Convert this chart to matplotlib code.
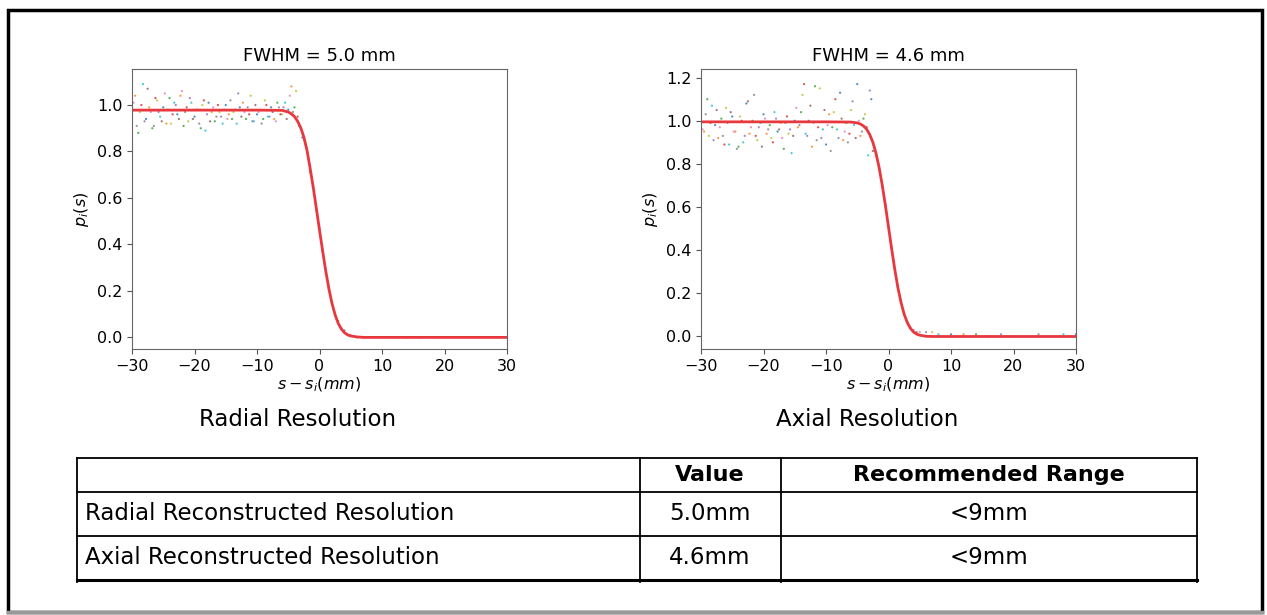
import matplotlib
matplotlib.use("Agg")
import matplotlib.pyplot as plt
from matplotlib.patches import Rectangle
from matplotlib.lines import Line2D

# sample positions of the noisy plateau (two interleaved passes)
x_pass_a = [-30, -29.5, -29, -28.5, -28, -27.5, -27, -26.5,
            -26, -25.5, -25, -24.5, -24, -23.5, -23, -22.5,
            -22, -21.5, -21, -20.5, -20, -19.5, -19, -18.5,
            -18, -17.5, -17, -16.5, -16, -15.5, -15, -14.5,
            -14, -13.5, -13, -12.5, -12, -11.5, -11, -10.5,
            -10, -9.5, -9, -8.5, -8, -7.5, -7, -6.5,
            -6, -5.5, -5, -4.5, -4, -3.5, -3, -2.5]
x_pass_b = [-29.75, -29.25, -28.75, -28.25, -27.75, -27.25, -26.75, -26.25,
            -25.75, -25.25, -24.75, -24.25, -23.75, -23.25, -22.75, -22.25,
            -21.75, -21.25, -20.75, -20.25, -19.75, -19.25, -18.75, -18.25,
            -17.75, -17.25, -16.75, -16.25, -15.75, -15.25, -14.75, -14.25,
            -13.75, -13.25, -12.75, -12.25, -11.75, -11.25, -10.75, -10.25,
            -9.75, -9.25, -8.75, -8.25, -7.75, -7.25, -6.75, -6.25,
            -5.75, -5.25, -4.75, -4.25, -3.75, -3.25, -2.75, -2.25]
x_tail = [-2, -1.5, -1, -0.5, 0, 0.5, 1, 1.5, 2, 2.5, 3, 3.5, 4, 4.5, 5,
          6, 7, 8, 10, 12, 14, 16, 18, 20, 22, 24, 26, 28, 30]

# radial profile samples
rad_y_a = [0.95, 1.04, 0.88, 1.00, 0.93, 1.07, 0.97, 0.91,
           1.02, 0.95, 0.99, 0.92, 1.03, 0.96, 1.00, 0.94,
           1.06, 0.97, 0.93, 1.01, 0.95, 0.98, 0.90, 1.02,
           0.96, 0.93, 0.99, 0.95, 0.97, 0.92, 1.00, 0.96,
           0.94, 0.98, 1.05, 0.95, 0.97, 0.99, 1.04, 0.93,
           0.96, 0.98, 0.94, 1.00, 0.95, 0.97, 0.93, 0.99,
           0.96, 1.01, 0.98, 1.08, 0.99, 0.95, 0.90, 0.85]
rad_y_b = [1.01, 0.91, 0.97, 1.09, 0.94, 0.99, 0.90, 1.03,
           0.97, 0.93, 1.05, 0.98, 0.92, 1.01, 0.96, 1.04,
           0.91, 0.99, 1.03, 0.94, 0.98, 0.92, 1.00, 0.89,
           1.01, 0.97, 0.93, 1.00, 0.95, 0.98, 0.94, 1.02,
           0.97, 0.92, 0.99, 1.01, 0.94, 0.96, 0.93, 1.00,
           0.97, 0.92, 1.02, 0.95, 0.99, 0.94, 1.01, 0.96,
           0.99, 0.94, 1.04, 0.97, 1.06, 0.91, 0.86, 0.83]
rad_y_tail = [0.80, 0.71, 0.65, 0.55, 0.47, 0.37, 0.29, 0.21, 0.15, 0.10,
              0.07, 0.04, 0.03, 0.01, 0.01, 0.00, 0.00, 0.00, 0.00, 0.00,
              0.00, 0.00, 0.00, 0.00, 0.00, 0.00, 0.00, 0.00, 0.00]

# axial profile samples
ax_y_a = [1.08, 0.95, 1.10, 0.99, 0.91, 1.05, 0.97, 0.93,
          1.06, 0.89, 1.02, 0.95, 0.88, 1.00, 0.93, 1.09,
          0.97, 1.12, 0.91, 0.99, 1.03, 0.94, 0.98, 0.90,
          1.01, 0.96, 0.92, 0.99, 0.94, 0.85, 1.00, 0.97,
          1.04, 1.17, 0.93, 1.07, 0.99, 0.91, 1.15, 0.96,
          0.89, 1.03, 0.97, 1.10, 0.92, 1.01, 0.95, 0.90,
          1.05, 0.98, 1.17, 0.93, 1.01, 0.97, 1.14, 0.86]
ax_y_b = [0.96, 1.03, 0.93, 1.07, 0.98, 0.92, 1.01, 0.89,
          0.99, 1.04, 0.95, 0.87, 1.02, 0.90, 1.08, 0.94,
          1.00, 0.93, 0.97, 0.88, 1.01, 0.96, 0.92, 1.04,
          0.95, 0.99, 0.87, 1.02, 0.96, 0.93, 1.06, 0.98,
          1.12, 0.94, 1.00, 0.88, 1.16, 0.97, 0.92, 1.05,
          0.98, 0.86, 1.04, 0.96, 1.13, 0.91, 0.99, 0.94,
          1.09, 0.92, 1.00, 0.95, 1.03, 0.84, 1.10, 0.88]
ax_y_tail = [0.85, 0.78, 0.70, 0.61, 0.51, 0.41, 0.31, 0.23, 0.16, 0.10,
             0.07, 0.04, 0.03, 0.02, 0.02, 0.02, 0.02, 0.01, 0.01, 0.01,
             0.01, 0.00, 0.01, 0.00, 0.00, 0.01, 0.00, 0.01, 0.01]

# fitted edge (erf) curves
fit_x = [-30, -20, -10, -6, -5, -4.5, -4, -3.5, -3, -2.5, -2, -1.5, -1, -0.5,
         0, 0.5, 1, 1.5, 2, 2.5, 3, 3.5, 4, 4.5, 5, 6, 7, 10, 20, 30]
rad_fit = [0.978, 0.978, 0.978, 0.977, 0.970, 0.962, 0.950, 0.930, 0.902, 0.862,
           0.805, 0.728, 0.645, 0.554, 0.462, 0.372, 0.286, 0.210, 0.146, 0.097,
           0.060, 0.036, 0.020, 0.011, 0.006, 0.002, 0.000, 0.000, 0.000, 0.000]
ax_fit = [0.995, 0.995, 0.995, 0.994, 0.990, 0.985, 0.976, 0.961, 0.936, 0.900,
          0.849, 0.783, 0.701, 0.608, 0.508, 0.407, 0.312, 0.227, 0.158, 0.104,
          0.065, 0.038, 0.021, 0.011, 0.006, 0.001, 0.000, 0.000, 0.000, 0.000]

titles = ["FWHM = 5.0 mm", "FWHM = 4.6 mm"]
captions = ["Radial Resolution", "Axial Resolution"]
row_names = ["Radial Reconstructed Resolution", "Axial Reconstructed Resolution"]
row_values = ["5.0mm", "4.6mm"]
row_ranges = ["<9mm", "<9mm"]
col_headers = ["Value", "Recommended Range"]

tab10 = plt.rcParams["axes.prop_cycle"].by_key()["color"]

fig = plt.figure(figsize=(12.67, 6.15), dpi=100)
W, H = 1267, 615

# outer frame
fig.add_artist(Rectangle((8 / W, 1 - 612 / H), 1254 / W, 602 / H,
                         transform=fig.transFigure, fill=False,
                         edgecolor="black", linewidth=2.5))
fig.add_artist(Line2D([8 / W, 1262 / W], [1 - 612 / H, 1 - 612 / H],
                      transform=fig.transFigure, color="#999999", linewidth=2.5))

panels = [
    (132, rad_y_a, rad_y_b, rad_y_tail, rad_fit, (-0.05, 1.155), [0, 0.2, 0.4, 0.6, 0.8, 1.0]),
    (701, ax_y_a, ax_y_b, ax_y_tail, ax_fit, (-0.058, 1.24), [0, 0.2, 0.4, 0.6, 0.8, 1.0, 1.2]),
]

for i, (left, ya, yb, ytail, fit, ylim, yticks) in enumerate(panels):
    ax = fig.add_axes([left / W, 1 - 349 / H, 375 / W, 280 / H])
    xs = x_pass_a + x_pass_b + x_tail
    ys = ya + yb + ytail
    cols = [tab10[k % 10] for k in range(len(xs))]
    ax.scatter(xs, ys, s=2.5, c=cols, marker="o", linewidths=0, alpha=0.8)
    ax.plot(fit_x, fit, color="#e8383d", linewidth=2)
    ax.set_xlim(-30, 30)
    ax.set_ylim(*ylim)
    ax.set_yticks(yticks)
    ax.set_xticks([-30, -20, -10, 0, 10, 20, 30])
    ax.tick_params(labelsize=11.5, color="#555555")
    for sp in ax.spines.values():
        sp.set_color("#666666")
    ax.set_title(titles[i], fontsize=13)
    ax.set_ylabel(r"$p_i(s)$", fontsize=11.5)
    ax.set_xlabel(r"$s-s_i(mm)$", fontsize=11.5, labelpad=1)
    fig.text((left + 166) / W, 1 - 420 / H, captions[i], fontsize=16.5,
             ha="center", va="center")

# table
def hline(y, x0=77, x1=1197, lw=1.3):
    fig.add_artist(Line2D([x0 / W, x1 / W], [1 - y / H, 1 - y / H],
                          transform=fig.transFigure, color="black", linewidth=lw))

def vline(x, y0=458, y1=582, lw=1.3):
    fig.add_artist(Line2D([x / W, x / W], [1 - y0 / H, 1 - y1 / H],
                          transform=fig.transFigure, color="black", linewidth=lw))

for y in [458, 492, 536]:
    hline(y)
hline(580, lw=2.2)
for x in [77, 640, 781, 1197]:
    vline(x)

fig.text(710 / W, 1 - 475 / H, col_headers[0], fontsize=16, fontweight="bold",
         ha="center", va="center")
fig.text(989 / W, 1 - 475 / H, col_headers[1], fontsize=16, fontweight="bold",
         ha="center", va="center")
for r, yc in enumerate([514, 558]):
    fig.text(85 / W, 1 - yc / H, row_names[r], fontsize=16.5, ha="left", va="center")
    fig.text(710 / W, 1 - yc / H, row_values[r], fontsize=16.5, ha="center", va="center")
    fig.text(989 / W, 1 - yc / H, row_ranges[r], fontsize=16.5, ha="center", va="center")

fig.savefig("out.png", dpi=100)
